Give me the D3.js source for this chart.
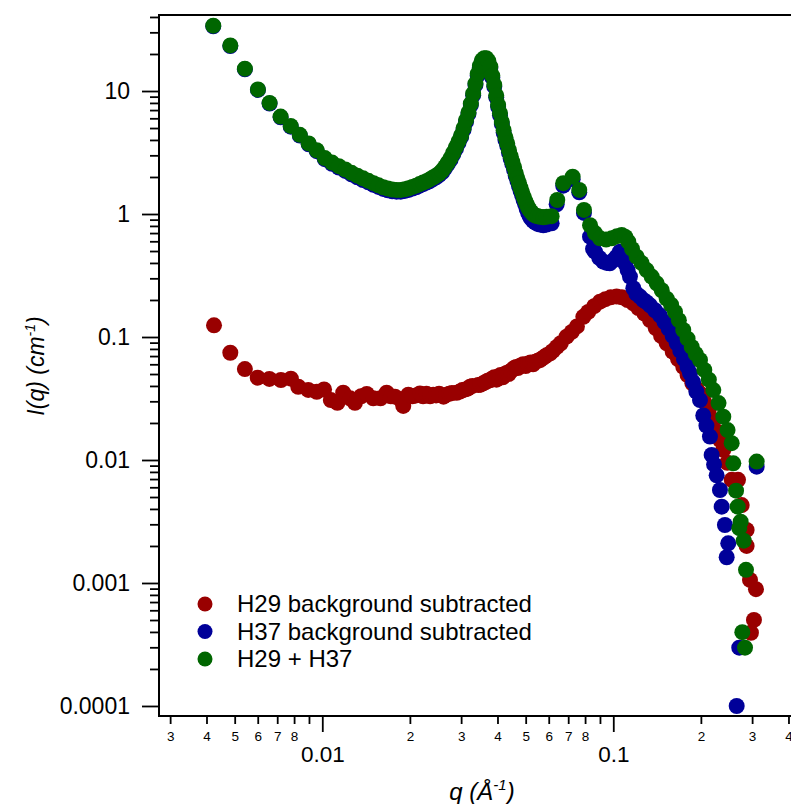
<!DOCTYPE html>
<html>
<head>
<meta charset="utf-8">
<script src="https://cdn.jsdelivr.net/npm/d3@7"></script>
<style>
  html, body { margin: 0; padding: 0; background: #fff; }
  svg { display: block; }
  text { font-family: "Liberation Sans", Arial, sans-serif; fill: #000; }
</style>
</head>
<body>
<svg id="chart" width="791" height="804"></svg>
<script>
// ---------- data: [q (1/Å), I (1/cm)] ----------
const seriesNames = ["H29 background subtracted", "H37 background subtracted", "H29 + H37"];
const seriesColors = ["#990000", "#000099", "#006600"];

const h29 = [
  [0.004245,0.1245],[0.00483,0.0745],[0.00542,0.0549],[0.0060,0.0467],[0.00658,0.0456],[0.00721,0.0447],
  [0.0078,0.0458],[0.00827,0.0394],[0.00895,0.0371],[0.00957,0.0359],[0.01014,0.0375],[0.0107,0.0307],
  [0.01127,0.0292],[0.0118,0.0352],[0.01245,0.0317],[0.01295,0.0292],[0.0136,0.033],[0.01422,0.0344],
  [0.01497,0.0317],[0.01585,0.0317],[0.01664,0.0352],[0.0172,0.033],[0.01778,0.0327],[0.0186,0.031],
  [0.01898,0.0275],[0.01976,0.034],[0.0204,0.033],[0.0210,0.0335],[0.02166,0.0348],[0.0222,0.033],
  [0.0228,0.0345],[0.02346,0.033],[0.02406,0.034],[0.0246,0.0335],[0.0252,0.0345],[0.0261,0.0327],
  [0.0267,0.034],[0.0273,0.0345],[0.0279,0.035],[0.02897,0.0352],[0.0297,0.036],[0.0303,0.037],
  [0.0310,0.0375],[0.0316,0.038],[0.0322,0.0394],[0.0328,0.040],[0.03436,0.0407],[0.0350,0.041],
  [0.0357,0.042],[0.0364,0.043],[0.0370,0.044],[0.0377,0.0445],[0.0384,0.046],[0.0390,0.047],
  [0.0397,0.045],[0.0404,0.048],[0.0410,0.049],[0.0417,0.047],[0.0424,0.050],[0.0430,0.051],
  [0.0437,0.050],[0.0444,0.053],[0.0450,0.054],[0.0457,0.056],[0.0464,0.057],[0.0470,0.056],
  [0.0477,0.058],[0.0484,0.059],[0.0490,0.060],[0.0500,0.058],[0.0510,0.061],[0.0520,0.062],
  [0.0530,0.060],[0.0540,0.063],[0.0550,0.064],[0.0560,0.065],[0.0570,0.067],[0.0580,0.069],
  [0.0590,0.071],[0.0607,0.0737],[0.0620,0.077],[0.0640,0.083],[0.0660,0.089],[0.0691,0.1006],
  [0.0720,0.110],[0.0750,0.122],[0.0789,0.146],[0.0820,0.160],[0.0860,0.178],[0.0900,0.1936],
  [0.0940,0.203],[0.0980,0.210],[0.1027,0.213],[0.1070,0.210],[0.1120,0.200],[0.1172,0.188],
  [0.1220,0.172],[0.1280,0.155],[0.1337,0.1375],[0.1400,0.118],[0.1460,0.102],[0.1526,0.0889],
  [0.1600,0.076],[0.1670,0.066],[0.1740,0.0573],[0.1800,0.049],[0.1870,0.042],[0.1930,0.038],
  [0.1986,0.0348],[0.2050,0.030],[0.2125,0.025],[0.2207,0.0211],[0.2280,0.017],[0.2330,0.0145],
  [0.2388,0.0121],[0.2465,0.0095],[0.2552,0.0069],[0.2683,0.0069],[0.2762,0.0043],[0.2872,0.0027],
  [0.2872,0.0020],[0.2950,0.00106],[0.3093,0.00089],[0.3044,0.000501],[0.2972,0.000394]
];

const h37 = [
  [0.00422,33.6],[0.00483,23.2],[0.00542,15.0],[0.00601,10.2],[0.00659,7.9],[0.00719,6.12],
  [0.00779,5.13],[0.00837,4.34],[0.00898,3.69],[0.00957,3.24],[0.0102,2.79],[0.0108,2.56],
  [0.0114,2.39],[0.0120,2.24],[0.0126,2.10],[0.0132,1.99],[0.0138,1.89],[0.0144,1.81],
  [0.0150,1.73],[0.0156,1.66],[0.0162,1.60],[0.0168,1.56],[0.0174,1.53],[0.0180,1.52],
  [0.0186,1.52],[0.0192,1.54],[0.0198,1.57],[0.0204,1.61],[0.0210,1.65],[0.0216,1.70],
  [0.0222,1.75],[0.0228,1.80],[0.0234,1.85],[0.0240,1.92],[0.0246,1.99],[0.0252,2.07],
  [0.0258,2.18],[0.0264,2.35],[0.0270,2.55],[0.0276,2.77],[0.0282,3.06],[0.0288,3.40],
  [0.0294,3.79],[0.0300,4.23],[0.0306,4.86],[0.0312,5.64],[0.0318,6.52],[0.0324,7.7],
  [0.0330,9.25],[0.0336,11.2],[0.0342,13.4],[0.0348,15.6],[0.0354,17.3],[0.0360,18.0],
  [0.0366,18.0],[0.0372,17.1],[0.0378,15.4],[0.0384,12.9],[0.0390,10.9],[0.0396,8.9],
  [0.0402,7.45],[0.0408,6.35],[0.0414,5.4],[0.0420,4.6],[0.0426,4.0],[0.0432,3.6],
  [0.0438,3.17],[0.0444,2.83],[0.0450,2.54],[0.0456,2.3],[0.0462,2.06],[0.0468,1.87],
  [0.0474,1.70],[0.0480,1.55],[0.0486,1.42],[0.0492,1.30],[0.0498,1.20],[0.0504,1.10],
  [0.0510,1.02],[0.0516,0.96],[0.0522,0.92],[0.0530,0.88],[0.0540,0.85],[0.0550,0.83],
  [0.0560,0.82],[0.0575,0.81],[0.0590,0.82],[0.0614,0.84],[0.0639,1.20],[0.0673,1.70],
  [0.0725,1.92],[0.0764,1.50],[0.0793,1.02],[0.0832,0.654],[0.0852,0.52],[0.0865,0.494],
  [0.0895,0.44],[0.0924,0.41],[0.0950,0.40],[0.0973,0.397],[0.1000,0.42],[0.1027,0.45],
  [0.1054,0.494],[0.1075,0.45],[0.1097,0.397],[0.1120,0.35],[0.1141,0.31],[0.1172,0.249],
  [0.1200,0.225],[0.1235,0.213],[0.1268,0.20],[0.1300,0.192],[0.1337,0.181],[0.1390,0.165],
  [0.1446,0.150],[0.1500,0.132],[0.1550,0.117],[0.1600,0.102],[0.1652,0.089],[0.1700,0.077],
  [0.1750,0.066],[0.1800,0.057],[0.1835,0.0507],[0.1880,0.043],[0.1930,0.036],[0.1986,0.0307],
  [0.2038,0.0230],[0.2090,0.0190],[0.2149,0.0155],[0.2178,0.0110],[0.2220,0.0092],[0.2266,0.0075],
  [0.2326,0.0057],[0.2358,0.00417],[0.2419,0.00296],[0.2484,0.0021],[0.2453,0.00162],
  [0.2710,0.000298],[0.2655,0.0001],[0.3110,0.00883]
];

const h29h37 = [
  [0.00422,34.0],[0.00483,23.5],[0.00542,15.2],[0.00601,10.3],[0.00659,8.0],[0.00719,6.2],
  [0.00779,5.2],[0.00837,4.4],[0.00898,3.75],[0.00957,3.3],[0.0102,2.85],[0.0108,2.62],
  [0.0114,2.45],[0.0120,2.30],[0.0126,2.16],[0.0132,2.05],[0.0138,1.95],[0.0144,1.86],
  [0.0150,1.78],[0.0156,1.71],[0.0162,1.65],[0.0168,1.61],[0.0174,1.58],[0.0180,1.57],
  [0.0186,1.57],[0.0192,1.59],[0.0198,1.62],[0.0204,1.66],[0.0210,1.70],[0.0216,1.75],
  [0.0222,1.80],[0.0228,1.85],[0.0234,1.91],[0.0240,1.98],[0.0246,2.05],[0.0252,2.13],
  [0.0258,2.25],[0.0264,2.42],[0.0270,2.62],[0.0276,2.85],[0.0282,3.15],[0.0288,3.5],
  [0.0294,3.9],[0.0300,4.35],[0.0306,5.0],[0.0312,5.8],[0.0318,6.7],[0.0324,7.9],
  [0.0330,9.5],[0.0336,11.5],[0.0342,13.8],[0.0348,16.0],[0.0354,17.8],[0.0360,18.5],
  [0.0366,18.5],[0.0372,17.6],[0.0378,15.8],[0.0384,13.3],[0.0390,11.2],[0.0396,9.2],
  [0.0402,7.7],[0.0408,6.6],[0.0414,5.6],[0.0420,4.8],[0.0426,4.2],[0.0432,3.75],
  [0.0438,3.3],[0.0444,2.95],[0.0450,2.65],[0.0456,2.4],[0.0462,2.15],[0.0468,1.95],
  [0.0474,1.78],[0.0480,1.63],[0.0486,1.50],[0.0492,1.38],[0.0498,1.28],[0.0504,1.20],
  [0.0510,1.13],[0.0516,1.08],[0.0522,1.04],[0.0530,1.00],[0.0540,0.97],[0.0550,0.96],
  [0.0560,0.95],[0.0575,0.94],[0.0590,0.95],[0.0614,0.96],[0.0642,1.30],[0.0673,1.78],
  [0.0725,2.01],[0.0764,1.57],[0.0793,1.08],[0.0832,0.81],[0.0865,0.70],[0.0900,0.634],
  [0.0945,0.62],[0.0988,0.634],[0.1030,0.66],[0.1069,0.675],[0.1100,0.65],[0.1126,0.596],
  [0.1160,0.52],[0.1203,0.45],[0.1250,0.40],[0.1302,0.35],[0.1355,0.31],[0.1410,0.273],
  [0.1467,0.24],[0.1526,0.205],[0.1580,0.183],[0.1630,0.160],[0.1680,0.137],[0.1740,0.114],
  [0.1800,0.097],[0.1860,0.083],[0.1920,0.073],[0.1986,0.065],[0.2055,0.054],[0.2130,0.045],
  [0.2207,0.037],[0.2300,0.029],[0.2388,0.0225],[0.2470,0.0175],[0.2552,0.0137],[0.2585,0.0094],
  [0.2642,0.00563],[0.2677,0.00417],[0.2740,0.00315],[0.2710,0.00279],[0.2808,0.00221],
  [0.2858,0.00128],[0.2776,0.000398],[0.2836,0.000298],[0.3110,0.0097]
];

const allSeries = [h29, h37, h29h37];

// tick definitions
const yMajorTicks = [0.0001, 0.001, 0.01, 0.1, 1, 10];
const yMajorLabels = ["0.0001", "0.001", "0.01", "0.1", "1", "10"];
const xMajorTicks = [0.01, 0.1];
const xMajorLabels = ["0.01", "0.1"];
const xMinorTicks = [0.003,0.004,0.005,0.006,0.007,0.008,0.009,
                     0.02,0.03,0.04,0.05,0.06,0.07,0.08,0.09,
                     0.2,0.3,0.4];
const xMinorLabels = ["3","4","5","6","7","8","",
                      "2","3","4","5","6","7","8","",
                      "2","3","4"];

// ---------- layout ----------
const svg = d3.select("#chart");
const plotLeft = 159, plotTop = 15, plotBottom = 716, plotRight = 800;

const x = d3.scaleLog().domain([0.002747, 0.4382]).range([plotLeft, plotRight]);
const y = d3.scaleLog().domain([8.29e-5, 41.5]).range([plotBottom, plotTop]);

// y minor ticks (2..9 of each decade inside the domain, from 1e-4 up)
const yMinorTicks = [];
for (let d = -4; d <= 1; d++) {
  for (let m = 2; m <= 9; m++) {
    const v = m * Math.pow(10, d);
    if (v <= y.domain()[1]) yMinorTicks.push(v);
  }
}

// points
const pts = svg.append("g");
allSeries.forEach((s, i) => {
  pts.append("g").selectAll("circle").data(s).join("circle")
    .attr("cx", d => x(d[0]))
    .attr("cy", d => y(d[1]))
    .attr("r", 8)
    .attr("fill", seriesColors[i]);
});

// axes
const axisStroke = 1.8;
const yMaj = d3.axisLeft(y).tickValues(yMajorTicks).tickSize(17).tickPadding(12)
  .tickFormat((d, i) => yMajorLabels[i]);
const gy = svg.append("g").attr("transform", `translate(${plotLeft},0)`).call(yMaj);
gy.select(".domain").remove();
gy.selectAll("text").attr("font-size", 23).attr("font-family", "Liberation Sans, Arial, sans-serif").attr("dy", "0.34em");
gy.selectAll("line").attr("stroke-width", axisStroke);

const yMin = d3.axisLeft(y).tickValues(yMinorTicks).tickSize(9).tickFormat("");
const gy2 = svg.append("g").attr("transform", `translate(${plotLeft},0)`).call(yMin);
gy2.select(".domain").remove();
gy2.selectAll("line").attr("stroke-width", axisStroke);

const xMaj = d3.axisBottom(x).tickValues(xMajorTicks).tickSize(16).tickPadding(0)
  .tickFormat((d, i) => xMajorLabels[i]);
const gx = svg.append("g").attr("transform", `translate(0,${plotBottom})`).call(xMaj);
gx.select(".domain").remove();
gx.selectAll("line").attr("stroke-width", axisStroke);
gx.selectAll("text").attr("font-size", 22.5).attr("font-family", "Liberation Sans, Arial, sans-serif")
  .attr("y", 45.5).attr("dy", 0);

const xMin = d3.axisBottom(x).tickValues(xMinorTicks).tickSize(8).tickPadding(0)
  .tickFormat((d, i) => xMinorLabels[i]);
const gx2 = svg.append("g").attr("transform", `translate(0,${plotBottom})`).call(xMin);
gx2.select(".domain").remove();
gx2.selectAll("line").attr("stroke-width", axisStroke);
gx2.selectAll("text").attr("font-size", 13.5).attr("font-family", "Liberation Sans, Arial, sans-serif")
  .attr("y", 25).attr("dy", 0);

// frame lines (left, bottom, top)
svg.append("path")
  .attr("d", `M${plotRight},${plotTop}H${plotLeft}V${plotBottom}H${plotRight}`)
  .attr("fill", "none").attr("stroke", "#000").attr("stroke-width", 2);

// axis titles
const yt = svg.append("text")
  .attr("transform", "translate(44,366) rotate(-90)")
  .attr("text-anchor", "middle")
  .attr("font-size", 23)
  .attr("font-style", "italic");
yt.append("tspan").text("I(q) (cm");
yt.append("tspan").attr("font-size", 14).attr("dy", -9).text("-1");
yt.append("tspan").attr("dy", 9).text(")");

const xt = svg.append("text")
  .attr("x", 482).attr("y", 800)
  .attr("text-anchor", "middle")
  .attr("font-size", 24)
  .attr("font-style", "italic");
xt.append("tspan").text("q (Å");
xt.append("tspan").attr("font-size", 15).attr("dy", -10).text("-1");
xt.append("tspan").attr("dy", 10).text(")");

// legend
const legend = svg.append("g");
const legendY = [604, 631.5, 659];
seriesNames.forEach((name, i) => {
  legend.append("circle").attr("cx", 205).attr("cy", legendY[i]).attr("r", 7.5).attr("fill", seriesColors[i]);
  legend.append("text").attr("x", 237).attr("y", legendY[i] + 8)
    .attr("font-size", 24).text(name);
});
</script>
</body>
</html>
